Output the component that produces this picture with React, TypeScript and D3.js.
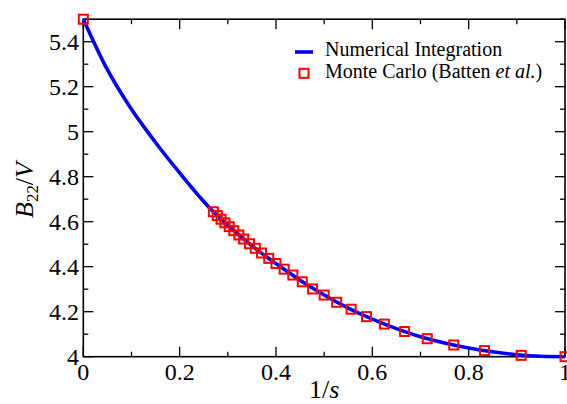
import React from "react";
import * as d3 from "d3";

// Curve (1/s, B22/V)
const curveX = [0, 0.045, 0.1, 0.1385, 0.15, 0.2, 0.25, 0.27, 0.3, 0.35, 0.4, 0.45, 0.5, 0.55, 0.6, 0.65, 0.7, 0.75, 0.8, 0.85, 0.9, 0.95, 1.0];
const curveY = [5.5, 5.296, 5.1, 4.985, 4.952, 4.817, 4.69, 4.644, 4.584, 4.493, 4.414, 4.34, 4.274, 4.216, 4.167, 4.125, 4.089, 4.061, 4.039, 4.022, 4.009, 4.002, 4.0];

// Monte Carlo points (Batten et al.)
const mcX = [0, 0.27, 0.278, 0.286, 0.294, 0.303, 0.3125, 0.323, 0.333, 0.345, 0.357, 0.37, 0.385, 0.4, 0.417, 0.435, 0.4545, 0.476, 0.5, 0.526, 0.556, 0.588, 0.625, 0.667, 0.714, 0.769, 0.833, 0.909, 1.0];
const mcY = [5.5, 4.644, 4.627, 4.611, 4.595, 4.578, 4.56, 4.541, 4.523, 4.502, 4.482, 4.461, 4.437, 4.414, 4.389, 4.363, 4.333, 4.301, 4.274, 4.242, 4.211, 4.178, 4.145, 4.112, 4.08, 4.052, 4.027, 4.006, 4.0];

const xMajor = [0, 0.2, 0.4, 0.6, 0.8, 1.0];
const xMajorLabels = ["0", "0.2", "0.4", "0.6", "0.8", "1"];
const xMinor = [0.1, 0.3, 0.5, 0.7, 0.9];
const yMajor = [4, 4.2, 4.4, 4.6, 4.8, 5, 5.2, 5.4];
const yMajorLabels = ["4", "4.2", "4.4", "4.6", "4.8", "5", "5.2", "5.4"];
const yMinor = [4.1, 4.3, 4.5, 4.7, 4.9, 5.1, 5.3, 5.5];

const W = 567;
const H = 404;
const L = 83.3, R = 565, T = 19.2, B = 356.7;
const FONT = "'Liberation Serif', 'Times New Roman', serif";

export default function App() {
  const x = d3.scaleLinear().domain([0, 1]).range([L, R]);
  const y = d3.scaleLinear().domain([4, 5.5]).range([B, T]);
  const curveData = curveX.map((v, i) => [v, curveY[i]] as [number, number]);
  const line = d3
    .line<[number, number]>()
    .x((d) => x(d[0]))
    .y((d) => y(d[1]))
    .curve(d3.curveMonotoneX);
  const MAJ = 10, MIN = 5;
  const ms = 9;

  return (
    <div style={{ position: "absolute", left: 0, top: 0 }}>
      <svg width={W} height={H} style={{ display: "block", background: "#fff" }} fontFamily={FONT}>
        {/* ticks */}
        <g stroke="#000" strokeWidth={1.3}>
          {xMajor.map((v) => (
            <g key={"xm" + v}>
              <line x1={x(v)} x2={x(v)} y1={B} y2={B - MAJ} />
              <line x1={x(v)} x2={x(v)} y1={T} y2={T + MAJ} />
            </g>
          ))}
          {xMinor.map((v) => (
            <g key={"xn" + v}>
              <line x1={x(v)} x2={x(v)} y1={B} y2={B - MIN} />
              <line x1={x(v)} x2={x(v)} y1={T} y2={T + MIN} />
            </g>
          ))}
          {yMajor.map((v) => (
            <g key={"ym" + v}>
              <line x1={L} x2={L + MAJ} y1={y(v)} y2={y(v)} />
              <line x1={R} x2={R - MAJ} y1={y(v)} y2={y(v)} />
            </g>
          ))}
          {yMinor.map((v) => (
            <g key={"yn" + v}>
              <line x1={L} x2={L + MIN} y1={y(v)} y2={y(v)} />
              <line x1={R} x2={R - MIN} y1={y(v)} y2={y(v)} />
            </g>
          ))}
        </g>
        <rect x={L} y={T} width={R - L} height={B - T} fill="none" stroke="#000" strokeWidth={1.6} />

        {/* curve */}
        <path d={line(curveData) || ""} fill="none" stroke="#0000ff" strokeWidth={3.6} />
        {/* markers */}
        <g fill="none" stroke="#ff0000" strokeWidth={2}>
          {mcX.map((v, i) => (
            <rect key={"mc" + i} x={x(v) - ms / 2} y={y(mcY[i]) - ms / 2} width={ms} height={ms} />
          ))}
        </g>

        {/* tick labels */}
        <g fontSize={24} fill="#000">
          {xMajor.map((v, i) => (
            <text key={"xl" + v} x={x(v)} y={380} textAnchor="middle">
              {xMajorLabels[i]}
            </text>
          ))}
          {yMajor.map((v, i) => (
            <text key={"yl" + v} x={79} y={y(v)} dy="0.35em" textAnchor="end">
              {yMajorLabels[i]}
            </text>
          ))}
        </g>

        {/* axis titles */}
        <text x={(L + R) / 2} y={398} textAnchor="middle" fontSize={26} fill="#000">
          1/<tspan fontStyle="italic">s</tspan>
        </text>
        <text transform={`translate(33,190) rotate(-90)`} textAnchor="middle" fontSize={26} fill="#000">
          <tspan fontStyle="italic">B</tspan>
          <tspan fontSize={17} dy={5}>22</tspan>
          <tspan dy={-5}>/</tspan>
          <tspan fontStyle="italic">V</tspan>
        </text>

        {/* legend */}
        <line x1={295} x2={313} y1={52} y2={52} stroke="#0000ff" strokeWidth={3.6} />
        <text x={325} y={56} fontSize={20} fill="#000">Numerical Integration</text>
        <rect x={304 - ms / 2} y={73.3 - ms / 2} width={ms} height={ms} fill="none" stroke="#ff0000" strokeWidth={2} />
        <text x={325} y={78.3} fontSize={20} fill="#000">
          Monte Carlo (Batten <tspan fontStyle="italic">et al.</tspan>)
        </text>
      </svg>
    </div>
  );
}
